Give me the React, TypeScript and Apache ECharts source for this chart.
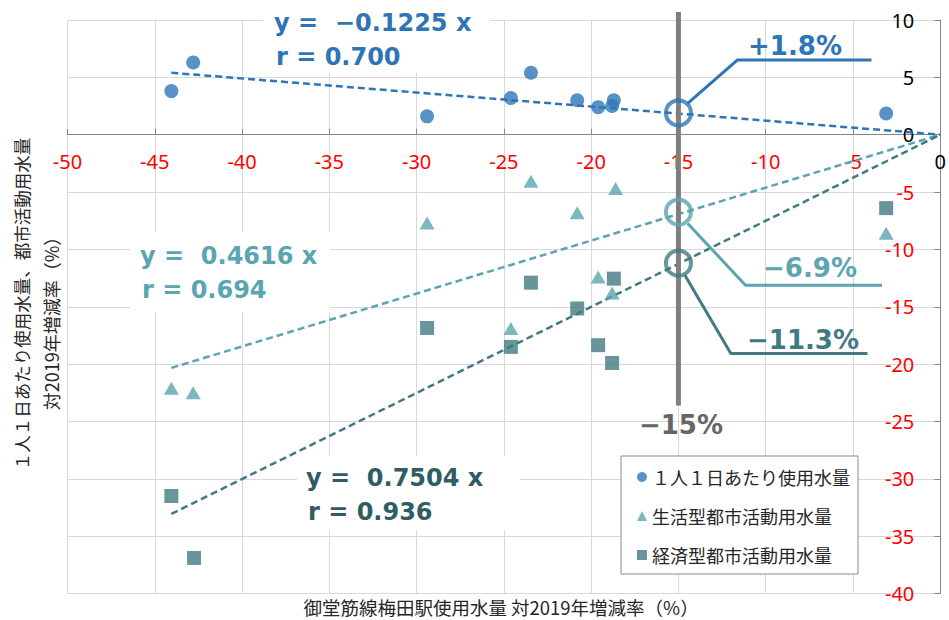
import React, { useEffect, useRef } from "react";
import * as echarts from "echarts";

// ---- data ----
const seriesNames = ["１人１日あたり使用水量", "生活型都市活動用水量", "経済型都市活動用水量"];

const perCapitaX = [-44.05, -42.8, -29.4, -24.6, -23.45, -20.8, -19.6, -18.7, -18.8, -3.1];
const perCapitaY = [3.8, 6.3, 1.6, 3.2, 5.4, 3.0, 2.4, 3.0, 2.5, 1.85];

const livingX = [-44.05, -42.8, -29.4, -24.6, -23.45, -20.8, -19.6, -18.8, -18.6, -3.1];
const livingY = [-22.1, -22.5, -7.7, -16.9, -4.05, -6.8, -12.4, -13.8, -4.7, -8.6];

const economicX = [-44.05, -42.75, -29.4, -24.6, -23.45, -20.8, -19.6, -18.8, -18.7, -3.1];
const economicY = [-31.5, -36.9, -16.85, -18.5, -12.9, -15.15, -18.35, -19.9, -12.55, -6.4];

// trend lines: start point and origin
const trendStartX = -44.05;
const trendStartY = [5.4, -20.33, -33.06];
const trendEnd = [0, 0];

// reference line at -15%
const refX = -15;
const refLineY = [10.7, -23.6];
const refCircleY = [1.9, -6.75, -11.2];

// leader lines for the annotations
const blueLeader = [[-14.47, 2.73], [-11.63, 6.51], [-3.94, 6.51]];
const tealLeader = [[-14.47, -7.74], [-11.16, -13.12], [-3.34, -13.12]];
const darkLeader = [[-14.63, -12.25], [-12.0, -19.08], [-4.17, -19.08]];

const eqTexts = [
  ["y =  −0.1225 x", "r = 0.700"],
  ["y =  0.4616 x", "r = 0.694"],
  ["y =  0.7504 x", "r = 0.936"],
];
const pctTexts = ["+1.8%", "−6.9%", "−11.3%", "−15%"];

const yName1 = "１人１日あたり使用水量、都市活動用水量";
const yName2 = "対2019年増減率（%）";
const xName = "御堂筋線梅田駅使用水量 対2019年増減率（%）";

const X_MIN = -50;
const X_MAX = 0;
const Y_MIN = -40;
const Y_MAX = 10;
const TICK_STEP = 5;

const BLUE = "#2E75B6";
const TEAL = "#5BA5B0";
const DARK = "#417A82";
const DARK_TEXT = "#2F5D63";
const GRAY = "#7F7F7F";

const FONT = '"Noto Sans CJK JP", "Noto Sans", sans-serif';
const NUMFONT = '"Noto Sans", "Noto Sans CJK JP", sans-serif';
const BOLD = '"DejaVu Sans", "Noto Sans", sans-serif';

const zip = (xs: number[], ys: number[]) => xs.map((x, i) => [x, ys[i]]);

// grid geometry
const GRID_TOP = 20;
const GRID_BOTTOM = 26.5;
const CHART_H = 620;

export default function App() {
  const ref = useRef<HTMLDivElement>(null);
  useEffect(() => {
    document.body.style.margin = "0";
    if (!ref.current) return;
    const chart = echarts.init(ref.current, undefined, { renderer: "svg" });
    const colors = [BLUE, TEAL, DARK];
    const plotH = CHART_H - GRID_TOP - GRID_BOTTOM;
    // x-axis drawn at y = 0 : offset from the top of the grid
    const zeroOffset = (plotH * (Y_MAX - 0)) / (Y_MAX - Y_MIN);

    const trendSeries = trendStartY.map((y0, i) => ({
      type: "line",
      data: [[trendStartX, y0], trendEnd],
      symbol: "none",
      silent: true,
      lineStyle: { color: colors[i], width: 2.5, type: [7, 4] },
      z: 3,
    }));
    const circleSeries = refCircleY.map((y, i) => ({
      type: "scatter",
      data: [[refX, y]],
      symbol: "circle",
      symbolSize: 25,
      silent: true,
      itemStyle: { color: "rgba(0,0,0,0)", borderColor: colors[i], borderWidth: 4 },
      z: 6,
    }));
    const leaderSeries = [blueLeader, tealLeader, darkLeader].map((d, i) => ({
      type: "line",
      data: d,
      symbol: "none",
      silent: true,
      clip: false,
      lineStyle: { color: colors[i], width: 3 },
      z: 5,
    }));

    const txt = (text: string, x: number, y: number, fill: string, size: number, align = "left") => ({
      type: "text",
      x,
      y,
      z: 20,
      style: {
        text,
        fill,
        fontSize: size,
        fontWeight: "bold",
        fontFamily: BOLD,
        textAlign: align,
        textVerticalAlign: "middle",
      },
    });
    const box = (x: number, y: number, w: number, h: number) => ({
      type: "rect",
      z: 1,
      shape: { x, y, width: w, height: h },
      style: { fill: "#ffffff" },
      silent: true,
    });

    chart.setOption({
      animation: false,
      grid: { left: 67.5, right: 3, top: GRID_TOP, bottom: GRID_BOTTOM, containLabel: false },
      xAxis: {
        type: "value",
        position: "top",
        offset: -zeroOffset,
        min: X_MIN,
        max: X_MAX,
        interval: TICK_STEP,
        axisLine: { show: true, onZero: false, lineStyle: { color: "#868686", width: 1 } },
        axisTick: { show: true, inside: false, length: 6, lineStyle: { color: "#868686" } },
        axisLabel: {
          inside: true,
          fontSize: 20,
          fontFamily: NUMFONT,
          margin: 17,
          showMinLabel: true,
          showMaxLabel: true,
          color: (v: any) => (Number(v) === 0 ? "#000000" : "#FF0000"),
        },
        splitLine: { show: true, lineStyle: { color: "#D9D9D9", width: 1 } },
      },
      yAxis: {
        type: "value",
        position: "right",
        min: Y_MIN,
        max: Y_MAX,
        interval: TICK_STEP,
        axisLine: { show: true, onZero: false, lineStyle: { color: "#868686", width: 1 } },
        axisTick: { show: true, inside: true, length: 6, lineStyle: { color: "#868686" } },
        axisLabel: {
          inside: true,
          margin: 26,
          fontSize: 20,
          fontFamily: NUMFONT,
          showMinLabel: true,
          showMaxLabel: true,
          color: (v: any) => (Number(v) >= 0 ? "#000000" : "#FF0000"),
        },
        splitLine: { show: true, lineStyle: { color: "#D9D9D9", width: 1 } },
      },
      legend: {
        orient: "vertical",
        left: 621,
        top: 456,
        padding: [11, 8, 9, 16],
        itemWidth: 10,
        itemHeight: 10,
        itemGap: 19,
        backgroundColor: "#ffffff",
        borderColor: "#8C8C8C",
        borderWidth: 1,
        textStyle: { fontSize: 18, lineHeight: 20, fontFamily: FONT, color: "#262626" },
        data: [
          { name: seriesNames[0], icon: "circle" },
          { name: seriesNames[1], icon: "triangle" },
          { name: seriesNames[2], icon: "rect" },
        ],
        z: 10,
      },
      series: [
        ...trendSeries,
        {
          type: "line",
          data: [[refX, refLineY[0]], [refX, refLineY[1]]],
          symbol: "none",
          silent: true,
          clip: false,
          lineStyle: { color: GRAY, width: 5 },
          z: 4,
        },
        ...leaderSeries,
        ...circleSeries,
        {
          name: seriesNames[0],
          type: "scatter",
          data: zip(perCapitaX, perCapitaY),
          symbol: "circle",
          symbolSize: 14,
          itemStyle: { color: BLUE },
          z: 7,
        },
        {
          name: seriesNames[1],
          type: "scatter",
          data: zip(livingX, livingY),
          symbol: "triangle",
          symbolSize: [15, 13],
          itemStyle: { color: TEAL },
          z: 7,
        },
        {
          name: seriesNames[2],
          type: "scatter",
          data: zip(economicX, economicY),
          symbol: "rect",
          symbolSize: 14,
          itemStyle: { color: DARK },
          z: 7,
        },
      ],
      graphic: [
        box(263, 0, 227, 73),
        box(130, 232, 200, 80),
        box(297, 456, 223, 74),
        txt(eqTexts[0][0], 274, 23, BLUE, 24),
        txt(eqTexts[0][1], 276, 57, BLUE, 24),
        txt(eqTexts[1][0], 140, 256, TEAL, 24),
        txt(eqTexts[1][1], 142, 290, TEAL, 24),
        txt(eqTexts[2][0], 306, 478, DARK_TEXT, 24),
        txt(eqTexts[2][1], 308, 512, DARK_TEXT, 24),
        txt(pctTexts[0], 795, 46, BLUE, 26, "center"),
        txt(pctTexts[1], 810, 268, TEAL, 26, "center"),
        txt(pctTexts[2], 803, 340, DARK, 26, "center"),
        txt(pctTexts[3], 681, 425, "#666666", 26, "center"),
        {
          type: "text",
          x: 21,
          y: 304,
          rotation: Math.PI / 2,
          z: 20,
          style: {
            text: yName1,
            fill: "#262626",
            fontSize: 17.5,
            fontFamily: FONT,
            textAlign: "center",
            textVerticalAlign: "middle",
          },
        },
        {
          type: "text",
          x: 51,
          y: 319,
          rotation: Math.PI / 2,
          z: 20,
          style: {
            text: yName2,
            fill: "#262626",
            fontSize: 18,
            fontFamily: FONT,
            textAlign: "center",
            textVerticalAlign: "middle",
          },
        },
        {
          type: "text",
          x: 501,
          y: 607,
          z: 20,
          style: {
            text: xName,
            fill: "#262626",
            fontSize: 18.5,
            fontFamily: FONT,
            textAlign: "center",
            textVerticalAlign: "middle",
          },
        },
      ],
    });
    return () => chart.dispose();
  }, []);
  return (
    <div
      ref={ref}
      style={{ position: "fixed", left: 0, top: 0, width: 949, height: 620, background: "#ffffff" }}
    />
  );
}
